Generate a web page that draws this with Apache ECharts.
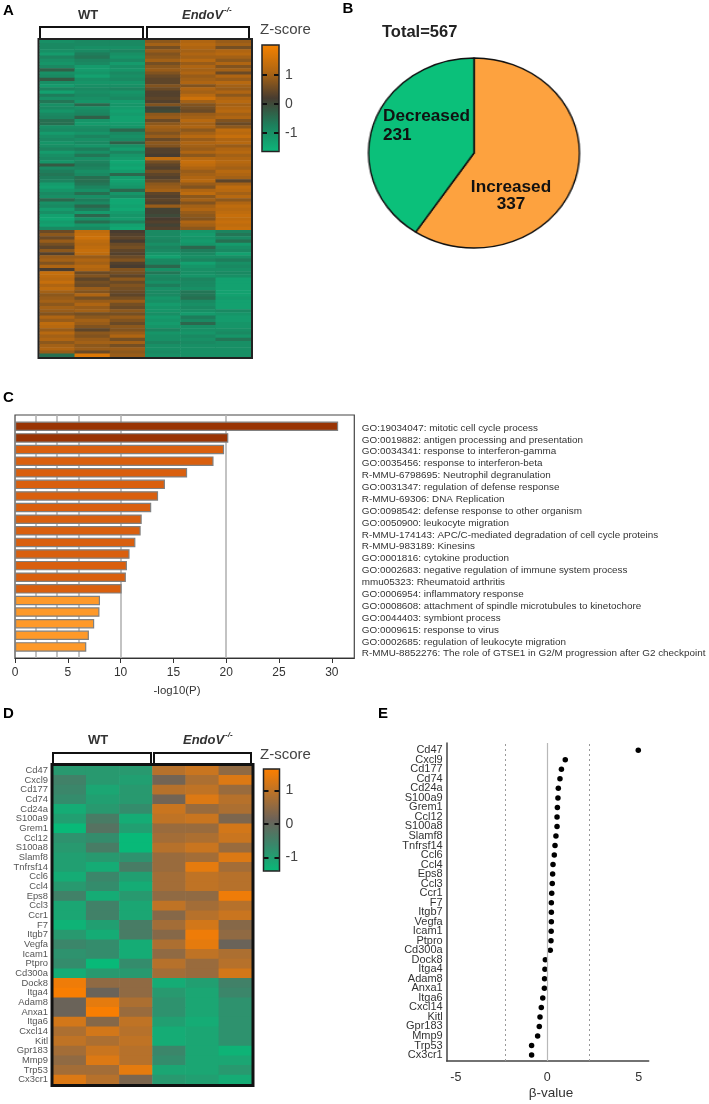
<!DOCTYPE html>
<html>
<head>
<meta charset="utf-8">
<style>
  html, body { margin: 0; padding: 0; background: #fff; }
  #pie { position: absolute; left: 377.7px; top: 57px; width: 192px; height: 192px; transform: scaleX(1.11); }
  #main { position: absolute; left: 0; top: 0; width: 709px; height: 1104px; }
</style>
<script src="https://cdn.jsdelivr.net/npm/echarts@6/dist/echarts.min.js"></script>
</head>
<body>
<div id="pie"></div>
<div id="main"></div>
<script>
// panel A: z-scores per row, columns WT1 WT2 WT3 KO1 KO2 KO3
const heatA = [
  [-1.0,-0.9,-0.9,0.8,1.1,0.9],[-0.9,-0.9,-0.9,1.0,1.2,1.0],[-0.9,-1.0,-1.0,0.6,1.1,0.6],[-1.0,-0.9,-0.8,0.9,1.0,1.1],
  [-1.2,-0.7,-1.0,0.7,1.1,1.2],[-0.8,-0.6,-1.1,0.8,1.0,1.0],[-1.0,-0.8,-0.9,1.0,1.2,0.8],[-1.1,-0.9,-1.2,0.6,0.9,1.1],
  [-0.9,-1.2,-1.0,0.8,1.1,0.7],[-0.3,-1.2,-1.1,0.9,1.0,1.0],[-1.0,-1.1,-0.9,0.7,1.1,0.5],[-0.9,-1.3,-1.0,0.5,0.9,1.1],
  [-0.2,-1.0,-0.9,0.4,1.0,0.9],[-1.0,-1.1,-1.1,0.4,1.1,1.2],[-1.2,-1.0,-1.0,0.7,0.7,1.0],[-0.8,-0.9,-0.8,0.5,1.1,0.9],
  [-1.3,-1.0,-1.1,0.3,1.0,1.1],[-0.7,-0.9,-1.0,0.3,1.2,0.8],[-1.0,-1.0,-0.9,0.4,1.5,1.1],[-0.6,-1.1,-1.2,0.3,1.0,1.2],
  [-1.0,-0.4,-1.1,0.7,0.7,1.0],[-0.9,-1.0,-1.2,0.1,0.6,1.1],[-1.1,-0.9,-1.3,0.0,0.5,1.2],[-0.9,-0.8,-1.2,0.8,0.9,1.0],
  [-0.8,-0.3,-1.3,0.9,1.0,1.1],[-0.5,-1.1,-1.3,0.5,1.2,0.7],[-0.5,-1.2,-1.2,0.8,1.0,0.5],[-1.0,-1.0,-1.1,1.0,1.1,0.8],
  [-0.9,-0.9,-0.4,0.9,0.8,1.3],[-1.2,-1.1,-0.9,0.7,1.0,1.2],[-1.0,-0.8,-1.0,0.9,1.2,1.4],[-0.9,-1.0,-0.9,0.5,0.9,1.1],
  [-1.1,-0.9,-0.3,0.8,1.1,1.2],[-1.0,-1.1,-1.0,0.7,1.0,0.9],[-0.8,-0.7,-1.2,0.3,0.9,1.1],[-1.2,-1.0,-0.8,0.3,1.1,1.2],
  [-1.0,-0.6,-1.1,0.2,0.8,1.0],[-0.9,-1.0,-1.2,1.3,1.2,1.1],[-1.1,-0.8,-1.4,0.6,1.4,1.2],[-0.2,-0.7,-1.3,0.4,1.3,1.1],
  [-0.9,-0.8,-1.4,0.3,1.1,1.0],[-0.7,-1.0,-1.2,0.6,0.9,1.2],[-0.6,-0.9,-0.4,0.4,1.0,1.1],[-0.7,-0.5,-1.2,0.3,1.1,1.0],
  [-0.8,-0.5,-1.3,0.5,1.2,0.4],[-1.2,-0.6,-1.2,0.8,0.9,1.0],[-1.3,-0.8,-1.1,0.9,0.7,1.3],[-1.1,-1.0,-0.4,1.0,1.1,1.2],
  [-0.9,-0.5,-1.1,0.4,1.3,1.0],[-1.0,-1.0,-0.9,0.3,0.8,1.2],[-0.4,-0.7,-1.4,0.4,1.0,0.8],[-1.0,-0.9,-1.4,0.3,0.7,1.1],
  [-0.9,-0.4,-1.3,0.9,1.0,1.3],[-1.2,-0.7,-1.4,0.1,1.1,1.2],[-1.0,-1.2,-1.2,0.1,0.9,1.3],[-1.3,-0.4,-1.1,0.0,0.8,1.4],
  [-1.4,-1.0,-1.2,0.2,0.7,1.3],[-1.2,-0.5,-0.8,0.3,1.1,1.4],[-1.3,-1.1,-1.3,0.1,1.0,1.3],[-0.9,-0.9,-1.4,0.3,0.8,1.4],
  [0.5,1.3,0.2,-0.9,-1.1,-0.8],[0.8,1.4,0.3,-0.9,-1.2,-0.6],[0.5,1.5,0.4,-0.9,-1.1,-0.9],[0.9,1.3,0.2,-0.8,-1.2,-0.5],
  [0.6,1.2,0.5,-1.0,-1.1,-1.2],[0.4,1.3,0.6,-0.8,-0.4,-1.0],[0.8,1.4,0.4,-0.9,-0.7,-0.9],[0.3,1.3,0.3,-1.1,-0.9,-1.3],
  [0.9,0.9,0.5,-1.3,-1.0,-1.0],[1.0,1.1,0.7,-0.9,-0.8,-0.7],[0.7,1.0,0.3,-0.9,-1.3,-1.0],[1.1,1.2,0.2,-0.4,-1.1,-0.9],
  [0.2,1.1,0.7,-1.0,-1.0,-1.0],[1.4,0.5,0.6,-0.6,-1.0,-0.9],[1.3,0.7,0.4,-0.9,-1.1,-1.0],[1.2,0.4,0.8,-0.8,-0.8,-1.3],
  [1.4,0.6,0.5,-1.0,-0.9,-1.3],[1.1,0.5,0.7,-0.7,-0.9,-1.3],[1.3,0.9,0.6,-1.0,-1.0,-1.3],[1.0,0.7,0.5,-0.9,-0.6,-1.3],
  [0.8,1.1,0.4,-0.9,-0.6,-1.3],[0.9,0.6,0.6,-1.1,-0.5,-1.2],[1.0,0.9,0.9,-1.0,-0.9,-1.3],[0.8,1.1,0.6,-1.2,-1.0,-1.3],
  [1.0,0.9,0.5,-1.1,-0.9,-1.3],[0.9,1.0,0.8,-1.1,-1.0,-0.9],[0.7,0.6,0.6,-1.0,-1.2,-1.1],[1.1,0.8,0.9,-1.2,-0.7,-1.2],
  [0.9,1.0,0.7,-1.1,-0.9,-1.2],[1.3,0.9,0.5,-1.2,-0.4,-1.1],[1.2,0.7,0.8,-1.1,-1.0,-1.1],[0.9,0.4,0.7,-0.8,-1.0,-1.0],
  [1.2,0.8,0.9,-1.1,-1.1,-0.9],[1.0,0.7,1.1,-1.0,-0.9,-1.1],[1.1,0.9,0.6,-1.0,-1.0,-0.6],[0.8,1.0,1.0,-0.8,-0.9,-1.0],
  [1.0,0.8,0.6,-1.0,-1.0,-1.0],[1.1,0.9,0.9,-1.0,-1.0,-1.0],[0.9,0.5,0.8,-0.9,-1.0,-1.0],[-0.5,1.7,0.9,-1.0,-1.0,-1.0]
]

// panel B
const pieNames = ['Increased', 'Decreased']
const pieValues = [337, 231]
const pieColors = ['#fda23f', '#0bc07a']
const totalText = 'Total=567'

// panel C
const goTerms = [
  'GO:19034047: mitotic cell cycle process',
  'GO:0019882: antigen processing and presentation',
  'GO:0034341: response to interferon-gamma',
  'GO:0035456: response to interferon-beta',
  'R-MMU-6798695: Neutrophil degranulation',
  'GO:0031347: regulation of defense response',
  'R-MMU-69306: DNA Replication',
  'GO:0098542: defense response to other organism',
  'GO:0050900: leukocyte migration',
  'R-MMU-174143: APC/C-mediated degradation of cell cycle proteins',
  'R-MMU-983189: Kinesins',
  'GO:0001816: cytokine production',
  'GO:0002683: negative regulation of immune system process',
  'mmu05323: Rheumatoid arthritis',
  'GO:0006954: inflammatory response',
  'GO:0008608: attachment of spindle microtubules to kinetochore',
  'GO:0044403: symbiont process',
  'GO:0009615: response to virus',
  'GO:0002685: regulation of leukocyte migration',
  'R-MMU-8852276: The role of GTSE1 in G2/M progression after G2 checkpoint'
]
const goValues = [30.6, 20.2, 19.8, 18.8, 16.3, 14.2, 13.55, 12.9, 12.0, 11.9, 11.4, 10.85, 10.6, 10.5, 10.1, 8.05, 8.0, 7.5, 7.0, 6.75]
const goShade = [2, 2, 1, 1, 1, 1, 1, 1, 1, 1, 1, 1, 1, 1, 1, 0, 0, 0, 0, 0]
const shadeColors = ['#fe9929', '#d95f0e', '#993404']
const goGridLines = [2, 4, 6, 10, 20]

// panels D and E share the gene list
const genes = ['Cd47', 'Cxcl9', 'Cd177', 'Cd74', 'Cd24a', 'S100a9', 'Grem1', 'Ccl12', 'S100a8', 'Slamf8', 'Tnfrsf14', 'Ccl6', 'Ccl4', 'Eps8', 'Ccl3', 'Ccr1', 'F7', 'Itgb7', 'Vegfa', 'Icam1', 'Ptpro', 'Cd300a', 'Dock8', 'Itga4', 'Adam8', 'Anxa1', 'Itga6', 'Cxcl14', 'Kitl', 'Gpr183', 'Mmp9', 'Trp53', 'Cx3cr1']
const heatD = [
  [-0.9,-0.9,-0.9,0.9,1.1,0.5],[-0.5,-0.9,-1.0,0.2,0.8,1.3],[-0.6,-1.1,-0.9,0.9,1.0,0.6],[-0.7,-1.0,-0.9,0.2,1.3,0.9],
  [-1.2,-0.9,-0.7,1.1,0.6,0.8],[-1.0,-0.4,-1.2,1.0,1.1,0.3],[-1.4,-0.2,-1.0,0.6,0.6,1.2],[-0.8,-0.7,-1.4,0.7,0.8,1.1],
  [-0.9,-0.4,-1.4,0.9,1.1,0.6],[-1.0,-0.9,-0.8,0.6,0.7,1.3],[-1.0,-1.2,-0.4,0.6,1.4,0.7],[-1.2,-0.6,-1.0,0.7,1.0,0.9],
  [-0.9,-0.7,-1.2,0.7,1.0,0.9],[-0.5,-1.2,-0.9,0.5,0.5,1.5],[-1.1,-0.5,-1.1,1.0,0.7,0.9],[-1.1,-0.5,-1.1,0.4,0.9,1.1],
  [-1.3,-1.0,-0.4,0.7,1.2,0.4],[-0.9,-1.2,-0.4,0.4,1.5,0.5],[-0.6,-0.7,-1.2,0.8,1.4,0.1],[-0.8,-0.7,-1.2,0.5,1.0,0.8],
  [-0.7,-1.4,-0.7,0.9,0.6,0.9],[-1.2,-0.9,-0.9,0.7,0.6,1.2],[1.5,0.5,0.5,-1.2,-1.0,-0.5],[1.6,0.1,0.5,-0.9,-1.1,-0.6],
  [0.1,1.4,0.8,-0.8,-1.1,-0.8],[0.1,1.6,0.6,-0.8,-1.1,-0.8],[1.2,0.4,1.0,-1.0,-1.2,-0.8],[0.8,1.2,0.9,-1.2,-1.1,-0.8],
  [1.0,0.8,1.0,-1.2,-1.1,-0.8],[0.7,1.1,0.9,-0.6,-1.1,-1.3],[0.5,1.3,0.9,-0.7,-1.1,-1.1],[0.7,0.7,1.4,-1.1,-1.1,-0.9],
  [1.3,0.9,0.3,-0.9,-1.0,-1.2]
]
const betaValues = [4.97, 0.98, 0.77, 0.69, 0.6, 0.58, 0.55, 0.53, 0.53, 0.47, 0.42, 0.38, 0.31, 0.29, 0.27, 0.24, 0.22, 0.22, 0.22, 0.21, 0.2, 0.16, -0.11, -0.13, -0.15, -0.16, -0.25, -0.33, -0.4, -0.44, -0.53, -0.86, -0.86]
const betaRefLines = [-2.31, 2.31]

const colTicks = [-1, 0, 1]
const FONT = '"Liberation Sans", Arial, sans-serif'

// flatten a matrix into [col, row, value]
function toCells(matrix) {
  let out = []
  matrix.forEach((row, y) => row.forEach((v, x) => out.push([x, y, v])))
  return out
}

function hiddenX(min, max, gridIndex) {
  return { type: 'value', show: false, min, max, gridIndex }
}

// colour bar axes sit on top of the visualMap bar
function barAxes(gridIndex, min, max) {
  let common = {
    type: 'value', gridIndex, min, max, z: 10,
    splitLine: { show: false }, axisLine: { show: false },
    axisTick: { show: true, inside: true, length: 5, customValues: colTicks, lineStyle: { color: '#111', width: 2 } }
  }
  return [
    { ...common, position: 'left', axisLabel: { show: false } },
    { ...common, position: 'right', axisLabel: { show: true, customValues: colTicks, margin: 6, fontSize: 14, color: '#444', fontFamily: FONT } }
  ]
}

function txt(text, x, y, font, fill, align) {
  return {
    type: 'text', z: 50, silent: true,
    style: { text, x, y, font: font + ' ' + FONT, fill: fill || '#111', textAlign: align || 'left', textVerticalAlign: 'middle' }
  }
}

function bracket(x1, x2, y1, y2) {
  return {
    type: 'polyline', z: 50, silent: true,
    shape: { points: [[x1, y2], [x1, y1], [x2, y1], [x2, y2]] },
    style: { stroke: '#111', lineWidth: 2, fill: null }
  }
}

function frame(x, y, width, height, lineWidth, stroke) {
  return { type: 'rect', z: 50, silent: true, shape: { x, y, width, height }, style: { fill: null, stroke, lineWidth } }
}

const sampleCols = ['WT1', 'WT2', 'WT3', 'KO1', 'KO2', 'KO3']

const option = {
  animation: false,
  textStyle: { fontFamily: FONT },
  grid: [
    { left: 39.5, top: 40, width: 211.5, height: 317 },          // 0 A heatmap
    { left: 262, top: 45, width: 17, height: 106.5, z: 10 },     // 1 A colour bar
    { left: 15, top: 415, width: 339.3, height: 243, show: true, borderColor: '#444', borderWidth: 1.2 }, // 2 C frame
    { left: 15, top: 420.5, width: 339.3, height: 232.2 },       // 3 C bars
    { left: 354.3, top: 422, width: 1, height: 237.6 },          // 4 C term labels
    { left: 53, top: 765.7, width: 199, height: 319 },           // 5 D heatmap
    { left: 263.5, top: 769, width: 16, height: 102, z: 10 },    // 6 D colour bar
    { left: 446.7, top: 743, width: 202, height: 318 },          // 7 E frame
    { left: 446.7, top: 745.5, width: 202, height: 314.3 }       // 8 E dots
  ],
  xAxis: [
    { type: 'category', gridIndex: 0, show: false, data: sampleCols },
    hiddenX(0, 1, 1),
    {
      type: 'value', gridIndex: 2, min: 0, max: 32.13, interval: 5,
      splitLine: { show: false },
      axisLine: { show: true, lineStyle: { color: '#333', width: 1.2 } },
      axisTick: { show: true, length: 5, lineStyle: { color: '#333' } },
      axisLabel: { color: '#333', fontSize: 12, margin: 9, showMaxLabel: false }
    },
    hiddenX(0, 32.13, 3),
    hiddenX(0, 1, 4),
    { type: 'category', gridIndex: 5, show: false, data: sampleCols },
    hiddenX(0, 1, 6),
    {
      type: 'value', gridIndex: 7, min: -5.5, max: 5.54,
      splitLine: { show: false },
      axisLine: { show: true, onZero: false, lineStyle: { color: '#444', width: 1.5 } },
      axisTick: { show: false },
      axisLabel: { color: '#333', fontSize: 12.5, margin: 10, customValues: [-5, 0, 5] }
    },
    hiddenX(-5.5, 5.54, 8)
  ],
  yAxis: [
    { type: 'category', gridIndex: 0, show: false, inverse: true, data: heatA.map((r, i) => i) },
    ...barAxes(1, -1.64, 2.03),
    { type: 'value', gridIndex: 2, show: false, min: 0, max: 1 },
    { type: 'category', gridIndex: 3, show: false, inverse: true, data: goTerms },
    {
      type: 'category', gridIndex: 4, position: 'right', inverse: true, data: goTerms,
      axisLine: { show: false }, axisTick: { show: false },
      axisLabel: { interval: 0, margin: 6.5, fontSize: 9.9, color: '#333', hideOverlap: false }
    },
    {
      type: 'category', gridIndex: 5, inverse: true, data: genes,
      axisLine: { show: false }, axisTick: { show: false },
      axisLabel: { interval: 0, margin: 5, fontSize: 9.4, color: '#555' }
    },
    ...barAxes(6, -1.4, 1.64),
    {
      type: 'value', gridIndex: 7, min: 0, max: 1, position: 'left',
      splitLine: { show: false }, axisLabel: { show: false }, axisTick: { show: false },
      axisLine: { show: true, onZero: false, lineStyle: { color: '#444', width: 1.5 } }
    },
    {
      type: 'category', gridIndex: 8, inverse: true, data: genes,
      axisLine: { show: false }, axisTick: { show: false },
      axisLabel: { interval: 0, margin: 4, fontSize: 11, color: '#333' }
    }
  ],
  visualMap: [
    {
      type: 'continuous', seriesIndex: 0, min: -1.64, max: 2.03, calculable: false, realtime: false,
      left: 262, top: 45, itemWidth: 17, itemHeight: 106.5, text: null, padding: 0,
      inRange: { color: ['#0db57a', '#1d7f5c', '#473c30', '#b06612', '#f58200'] }
    },
    {
      type: 'continuous', seriesIndex: 5, min: -1.4, max: 1.64, calculable: false, realtime: false,
      left: 263.5, top: 769, itemWidth: 16, itemHeight: 102, text: null, padding: 0,
      inRange: { color: ['#08b978', '#38886b', '#6b6259', '#b4712c', '#fc7f00'] }
    }
  ],
  series: [
    { type: 'heatmap', xAxisIndex: 0, yAxisIndex: 0, data: toCells(heatA), emphasis: { disabled: true }, silent: true },
    // grid lines behind the bars
    {
      type: 'line', xAxisIndex: 2, yAxisIndex: 3, data: [], z: 1, silent: true,
      markLine: { symbol: 'none', silent: true, label: { show: false }, z: 1, lineStyle: { color: '#b4b4b4', width: 1.6, type: 'solid' }, data: goGridLines.map(v => ({ xAxis: v })) }
    },
    {
      type: 'bar', xAxisIndex: 3, yAxisIndex: 4, barWidth: 9.5, z: 3, silent: true,
      data: goValues.map((v, i) => ({ value: v, itemStyle: { color: shadeColors[goShade[i]] } })),
      itemStyle: { borderColor: '#808080', borderWidth: 1.2 }
    },
    // reference lines of panel E
    { type: 'line', xAxisIndex: 7, yAxisIndex: 9, data: [], z: 1, silent: true,
      markLine: { symbol: 'none', silent: true, label: { show: false }, lineStyle: { color: '#b8b8b8', width: 1.2, type: 'solid' }, data: [{ xAxis: 0 }] } },
    { type: 'line', xAxisIndex: 7, yAxisIndex: 9, data: [], z: 1, silent: true,
      markLine: { symbol: 'none', silent: true, label: { show: false }, lineStyle: { color: '#999', width: 1, type: [2, 3] }, data: betaRefLines.map(v => ({ xAxis: v })) } },
    { type: 'heatmap', xAxisIndex: 5, yAxisIndex: 6, data: toCells(heatD), emphasis: { disabled: true }, silent: true },
    {
      type: 'scatter', xAxisIndex: 8, yAxisIndex: 10, symbolSize: 5.5, silent: true,
      itemStyle: { color: '#000', opacity: 1 },
      data: betaValues.map((v, i) => [v, genes[i]])
    }
  ],
  graphic: [
    txt('A', 3, 11, 'bold 15px', '#000'),
    txt('B', 342.5, 9, 'bold 15px', '#000'),
    txt('C', 3, 398, 'bold 15px', '#000'),
    txt('D', 3, 714, 'bold 15px', '#000'),
    txt('E', 378, 714, 'bold 15px', '#000'),

    // A
    txt('WT', 88, 15, 'bold 13px', '#333', 'center'),
    txt('EndoV', 182, 15, 'italic bold 13px', '#333'),
    txt('-/-', 224, 10, 'italic bold 8px', '#333'),
    bracket(40, 143, 27, 38),
    bracket(147, 249, 27, 38),
    frame(38.5, 39, 213.5, 319, 2, '#222'),
    txt('Z-score', 260, 30, '15px', '#444'),
    frame(262, 45, 17, 106.5, 1.5, '#222'),

    // B
    txt(totalText, 382, 32, 'bold 16.5px', '#222'),
    txt(pieNames[1], 383, 116, 'bold 17.2px', '#111'),
    txt(String(pieValues[1]), 383, 135, 'bold 17.2px', '#111'),
    txt(pieNames[0], 511, 187, 'bold 17.2px', '#111', 'center'),
    txt(String(pieValues[0]), 511, 204, 'bold 17.2px', '#111', 'center'),

    // C
    txt('-log10(P)', 177, 691, '11.4px', '#333', 'center'),

    // D
    txt('WT', 98, 740, 'bold 13px', '#333', 'center'),
    txt('EndoV', 183, 740, 'italic bold 13px', '#333'),
    txt('-/-', 225, 735, 'italic bold 8px', '#333'),
    bracket(53, 151, 753, 764),
    bracket(154, 251, 753, 764),
    frame(52, 764.5, 201, 321, 3, '#111'),
    txt('Z-score', 260, 755, '15px', '#444'),
    frame(263.5, 769, 16, 102, 1.5, '#222'),

    // E
    txt('β-value', 551, 1093, '13.5px', '#333', 'center')
  ]
}

const chart = echarts.init(document.getElementById('main'), null, { renderer: 'canvas' })
chart.setOption(option)

// the pie in the figure is an ellipse, so it gets its own box stretched by css
const pieChart = echarts.init(document.getElementById('pie'))
pieChart.setOption({
  animation: false,
  series: [{
    type: 'pie', radius: [0, 95], center: ['50%', '50%'], startAngle: 90, silent: true,
    label: { show: false }, labelLine: { show: false },
    itemStyle: { borderColor: '#111', borderWidth: 1.4 },
    data: pieNames.map((n, i) => ({ name: n, value: pieValues[i], itemStyle: { color: pieColors[i] } }))
  }]
})
</script>
</body>
</html>
